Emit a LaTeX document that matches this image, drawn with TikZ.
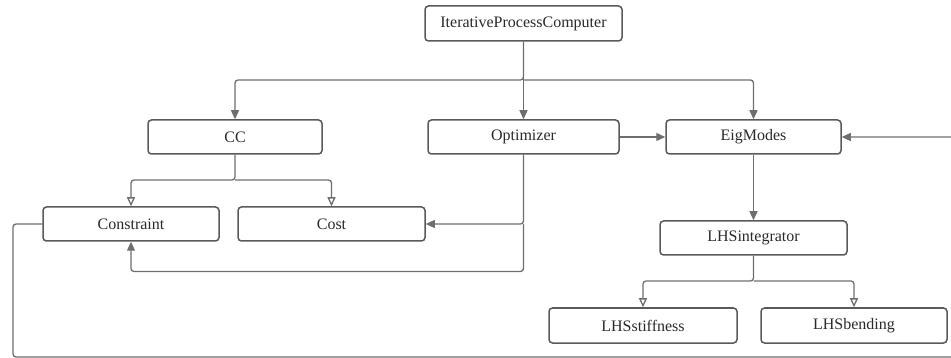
\documentclass[tikz,border=0pt]{standalone}
\usepackage{fontspec}
\setmainfont{Liberation Serif}
\usetikzlibrary{arrows.meta}
\definecolor{boxline}{HTML}{5A5A5A}
\definecolor{conn}{HTML}{6E6E6E}
\definecolor{txt}{HTML}{2A2A2A}
\begin{document}
\begin{tikzpicture}[x=1pt,y=-1pt,
  box/.style={draw=boxline, line width=1.5pt, rounded corners=3.5pt, fill=white,
    text=txt, font=\fontsize{16}{18}\selectfont, inner sep=0pt, minimum height=34pt},
  link/.style={draw=conn, line width=1.3pt, rounded corners=3pt},
  arr/.style={link, -{Triangle[length=9pt,width=8pt]}},
  inh/.style={link, -{Triangle[open,length=9pt,width=8pt,fill=white]}}]
\useasboundingbox (0,0) rectangle (951,358);
\clip (0,0) rectangle (951,358);
\node[box, minimum width=197pt, minimum height=35pt] (ipc) at (523.5,23.5) {IterativeProcessComputer};
\node[box, minimum width=174pt] (cc) at (235,137) {CC};
\node[box, minimum width=191pt] (opt) at (523.5,137) {Optimizer};
\node[box, minimum width=175pt] (eig) at (753.5,137) {EigModes};
\node[box, minimum width=176pt] (con) at (131,224) {Constraint};
\node[box, minimum width=187pt] (cost) at (331.5,224) {Cost};
\node[box, minimum width=187pt] (lhsi) at (753.5,238) {LHSintegrator};
\node[box, minimum width=188pt, minimum height=35pt] (stiff) at (643,325.5) {LHSstiffness};
\node[box, minimum width=186pt, minimum height=35pt] (bend) at (854,325.5) {LHSbending};
\coordinate (j1) at (523.5,80);
\coordinate (j2) at (235,180);
\coordinate (j3) at (523.5,224);
\coordinate (j4) at (523.5,271.5);
\coordinate (j5) at (753.5,281);
\coordinate (l1) at (13,357);
\coordinate (r1) at (975,357);
\coordinate (r2) at (975,137);
\draw[arr] (ipc.south) -- (j1) -| (cc.north);
\draw[arr] (j1) -| (eig.north);
\draw[arr] (ipc.south) -- (opt.north);
\draw[arr] (opt.east) -- (eig.west);
\draw[inh] (cc.south) -- (j2) -| (con.north);
\draw[inh] (j2) -| (cost.north);
\draw[arr] (opt.south) -- (j3) -- (cost.east);
\draw[arr] (j3) -- (j4) -| (con.south);
\draw[arr] (eig.south) -- (lhsi.north);
\draw[inh] (lhsi.south) -- (j5) -| (stiff.north);
\draw[inh] (j5) -| (bend.north);
\draw[arr] (con.west) -| (l1) -- (r1) -- (r2) -- (eig.east);
\end{tikzpicture}
\end{document}
